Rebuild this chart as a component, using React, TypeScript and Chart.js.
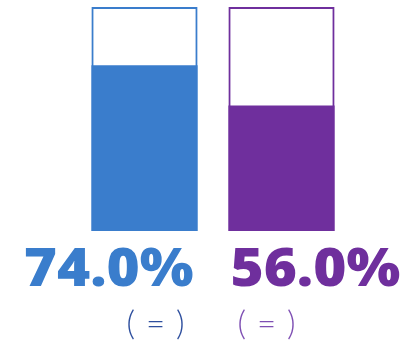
import React, { useEffect, useRef } from "react";
import { Chart, registerables } from "chart.js";

Chart.register(...registerables);

const categories = ["A", "B"];
const values = [74.0, 56.0];
const totals = [100, 100];
const valueLabels = values.map((v) => v.toFixed(1) + "%");
const subLabels = ["( = )", "( = )"];
const barColors = ["#3a7dcc", "#6f2f9d"];
const subColors = ["#2e4f9e", "#7e4fb3"];

const labelPlugin = {
  id: "bigLabels",
  afterDatasetsDraw(chart: any) {
    const ctx = chart.ctx;
    const meta = chart.getDatasetMeta(1);
    meta.data.forEach((bar: any, i: number) => {
      const half = bar.width / 2;
      const right = i === 0;
      const x = right ? bar.x + half - 4 : bar.x - half + 2;
      ctx.save();
      ctx.translate(x, 286);
      ctx.scale(1.07, 1);
      ctx.textAlign = right ? "right" : "left";
      ctx.textBaseline = "alphabetic";
      ctx.fillStyle = barColors[i];
      ctx.font = "800 53px 'Open Sans'";
      (ctx as any).letterSpacing = "0px";
      ctx.fillText(valueLabels[i], 0, 0);
      ctx.restore();
      ctx.save();
      const sx = right ? bar.x + half - 12 : bar.x - half + 9;
      ctx.textAlign = right ? "right" : "left";
      ctx.fillStyle = subColors[i];
      ctx.font = "300 33px Lato";
      (ctx as any).letterSpacing = "1px";
      ctx.fillText(subLabels[i], sx, 335);
      ctx.restore();
    });
  },
};

export default function App() {
  const ref = useRef<HTMLCanvasElement | null>(null);
  useEffect(() => {
    if (!ref.current) return;
    const chart = new Chart(ref.current, {
      type: "bar",
      data: {
        labels: categories,
        datasets: [
          {
            data: values,
            backgroundColor: barColors,
            borderWidth: 0,
            categoryPercentage: 1,
            barPercentage: 0.775,
          },
          {
            data: totals,
            backgroundColor: "rgba(0,0,0,0)",
            borderColor: barColors,
            borderWidth: 2,
            borderSkipped: false,
            categoryPercentage: 1,
            barPercentage: 0.775,
          },
        ],
      },
      options: {
        responsive: false,
        animation: false,
        layout: { padding: { left: 76, right: 64, top: 7, bottom: 114 } },
        plugins: { legend: { display: false }, tooltip: { enabled: false } },
        scales: {
          x: { stacked: true, display: false },
          y: { stacked: false, display: false, min: 0, max: 100 },
        },
      },
      plugins: [labelPlugin],
    });
    return () => chart.destroy();
  }, []);
  return (
    <div style={{ position: "fixed", left: 0, top: 0, width: 414, height: 345, background: "#fff" }}>
      <canvas ref={ref} width={414} height={345} style={{ display: "block" }} />
    </div>
  );
}
